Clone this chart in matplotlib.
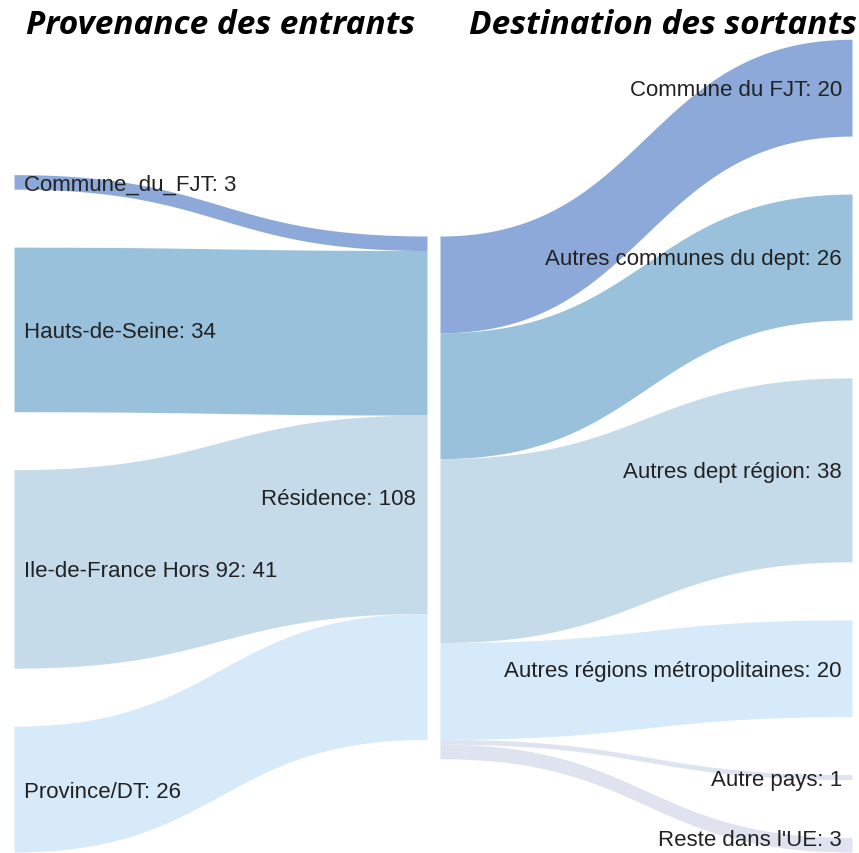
import numpy as np
import matplotlib.pyplot as plt

# données
sources = ["Commune_du_FJT", "Hauts-de-Seine", "Ile-de-France Hors 92", "Province/DT"]
entrants = [3, 34, 41, 26]
milieu = "Résidence"
milieu_total = 108
cibles = ["Commune du FJT", "Autres communes du dept", "Autres dept région",
          "Autres régions métropolitaines", "Autre pays", "Reste dans l'UE"]
sortants = [20, 26, 38, 20, 1, 3]

col_src = ["#8ca9d9", "#99c1dc", "#c6dbea", "#d6eafa"]
col_dst = ["#8ca9d9", "#99c1dc", "#c6dbea", "#d6eafa", "#dde3f0", "#dfe3ef"]

W, H = 859, 854
k = 4.84      # px par unité
gap = 58
x_src, x_mid_l, x_mid_r, x_dst = 14, 427, 440, 852
mid_top = 237
bottom = 853

fig = plt.figure(figsize=(W / 100, H / 100), dpi=100)
ax = fig.add_axes([0, 0, 1, 1])
ax.set_xlim(0, W)
ax.set_ylim(H, 0)
ax.axis("off")

t = np.linspace(0, 1, 200)
lab = dict(fontsize=16, family=["Liberation Sans", "DejaVu Sans"], color="#222222")


def ruban(xa, ya, xb, yb, h, color):
    xm = (xa + xb) / 2
    x = (1 - t) ** 3 * xa + 3 * (1 - t) ** 2 * t * xm + 3 * (1 - t) * t ** 2 * xm + t ** 3 * xb
    s = 3 * (1 - t) * t ** 2 + t ** 3
    y = ya + (yb - ya) * s
    ax.fill_between(x, y, y + h, color=color, lw=0)


# colonne gauche
tot_src = sum(entrants) * k + gap * (len(entrants) - 1)
y = bottom - tot_src
ym = mid_top
for nom, v, c in zip(sources, entrants, col_src):
    h = v * k
    ruban(x_src, y, x_mid_l, ym, h, c)
    ax.text(24, y + h / 2 + 2, f"{nom}: {v}", ha="left", va="center", **lab)
    y += h + gap
    ym += h

# colonne droite
tot_dst = sum(sortants) * k + gap * (len(sortants) - 1)
y = bottom - tot_dst
ym = mid_top
for nom, v, c in zip(cibles, sortants, col_dst):
    h = v * k
    ruban(x_mid_r, ym, x_dst, y, h, c)
    ax.text(842, min(y + h / 2 + 2, 841), f"{nom}: {v}", ha="right", va="center", **lab)
    y += h + gap
    ym += h

ax.text(416, mid_top + milieu_total * k / 2 + 1, f"{milieu}: {milieu_total}", ha="right",
        va="center", **lab)

ax.text(221, 26, "Provenance des entrants", ha="center", va="center", fontsize=24,
        family="Open Sans", weight="bold", style="italic", color="black")
ax.text(663, 26, "Destination des sortants", ha="center", va="center", fontsize=24,
        family="Open Sans", weight="bold", style="italic", color="black")

fig.savefig("out.png", dpi=100)
